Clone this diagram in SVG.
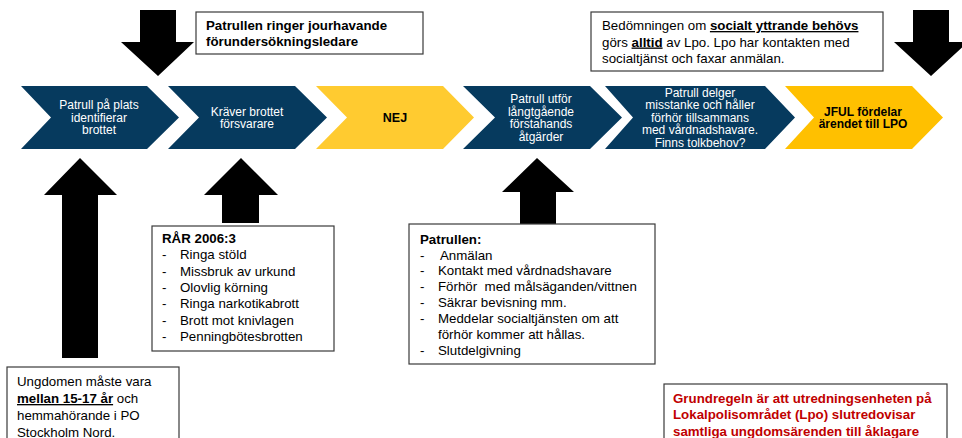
<svg xmlns="http://www.w3.org/2000/svg" width="962" height="438" viewBox="0 0 962 438">
<style>
text{font-family:"Liberation Sans",Arial,sans-serif;}
.chev{fill:#063A5E;}
.chevY{fill:#FFCB30;}
.chevY2{fill:#FFC000;}
.ct{font-size:12px;fill:#FFFFFF;text-anchor:middle;}
.cb{font-size:12.5px;font-weight:bold;fill:#000;text-anchor:middle;}
.box{fill:#FFFFFF;stroke:#3a3a3a;stroke-width:1.2;}
.bt{font-size:13.3px;fill:#000;}
.bold{font-weight:bold;}
.ul{text-decoration:underline;}
.red{fill:#C00000;font-weight:bold;font-size:13.3px;}
.arr{fill:#000;}
</style>
<rect width="962" height="438" fill="#FFFFFF"/>

<g id="connectors">
<polygon class="arr" points="140,10 176,10 176,42 194,42 158,76 121,42 140,42"/>
<polygon class="arr" points="913,10 949,10 949,42 968,42 931,76 894,42 913,42"/>
<polygon class="arr" points="80,158 117,195 98,195 98,358 62,358 62,195 44,195"/>
<polygon class="arr" points="241,158 278,195 259,195 259,223 222,223 222,195 204,195"/>
<polygon class="arr" points="537,158 574,192 556,192 556,224 520,224 520,192 502,192"/>
</g>

<g id="step1">
<polygon class="chev" points="21,86 147,86 179,117.5 147,149 21,149 51,117.5"/>
<text class="ct"><tspan x="99" y="109.3">Patrull på plats</tspan><tspan x="99" y="121.8">identifierar</tspan><tspan x="99" y="134.3">brottet</tspan></text>
</g>
<g id="step2">
<polygon class="chev" points="168,86 295,86 327,117.5 295,149 168,149 199,117.5"/>
<text class="ct"><tspan x="247" y="115.5">Kräver brottet</tspan><tspan x="247" y="128">försvarare</tspan></text>
</g>
<g id="step3">
<polygon class="chevY" points="316,86 443,86 474,117.5 443,149 316,149 347,117.5"/>
<text class="cb" x="395" y="122">NEJ</text>
</g>
<g id="step4">
<polygon class="chev" points="463,86 590,86 622,117.5 590,149 463,149 495,117.5"/>
<text class="ct"><tspan x="541" y="103">Patrull utför</tspan><tspan x="541" y="115.5">långtgående</tspan><tspan x="541" y="128">förstahands</tspan><tspan x="541" y="140.5">åtgärder</tspan></text>
</g>
<g id="step5">
<polygon class="chev" points="605,86 765,86 795,117.5 765,149 605,149 633,117.5"/>
<text class="ct"><tspan x="700" y="96.8">Patrull delger</tspan><tspan x="700" y="109.3">misstanke och håller</tspan><tspan x="700" y="121.8">förhör tillsammans</tspan><tspan x="700" y="134.3">med vårdnadshavare.</tspan><tspan x="700" y="146.8">Finns tolkbehov?</tspan></text>
</g>
<g id="step6">
<polygon class="chevY2" points="785,86 912,86 943,117.5 912,149 785,149 814,117.5"/>
<text class="cb" style="font-size:12px"><tspan x="863" y="115.5">JFUL fördelar</tspan><tspan x="863" y="128">ärendet till LPO</tspan></text>
</g>

<g id="note-jourhavande">
<rect class="box" x="196" y="12" width="227" height="42"/>
<text class="bt bold"><tspan x="206" y="30">Patrullen ringer jourhavande</tspan><tspan x="206" y="46">förundersökningsledare</tspan></text>
</g>

<g id="note-socialt">
<rect class="box" x="591" y="12" width="292" height="59"/>
<text class="bt"><tspan x="602" y="30">Bedömningen om <tspan class="bold ul">socialt yttrande behövs</tspan></tspan><tspan x="602" y="46.5">görs <tspan class="bold ul">alltid</tspan> av Lpo. Lpo har kontakten med</tspan><tspan x="602" y="63">socialtjänst och faxar anmälan.</tspan></text>
</g>

<g id="note-rar">
<rect class="box" x="152" y="226" width="182" height="125"/>
<text class="bt bold" x="162" y="243">RÅR 2006:3</text>
<text class="bt">
<tspan x="162" y="259">-</tspan><tspan x="180" y="259">Ringa stöld</tspan>
<tspan x="162" y="275.5">-</tspan><tspan x="180" y="275.5">Missbruk av urkund</tspan>
<tspan x="162" y="292">-</tspan><tspan x="180" y="292">Olovlig körning</tspan>
<tspan x="162" y="308">-</tspan><tspan x="180" y="308">Ringa narkotikabrott</tspan>
<tspan x="162" y="324.5">-</tspan><tspan x="180" y="324.5">Brott mot knivlagen</tspan>
<tspan x="162" y="341">-</tspan><tspan x="180" y="341">Penningbötesbrotten</tspan>
</text>
</g>

<g id="note-patrullen">
<rect class="box" x="409" y="224" width="246" height="140"/>
<text class="bt bold" x="420" y="243.5">Patrullen:</text>
<text class="bt">
<tspan x="420" y="259.5">-</tspan><tspan x="440" y="259.5">Anmälan</tspan>
<tspan x="420" y="275.3">-</tspan><tspan x="438" y="275.3">Kontakt med vårdnadshavare</tspan>
<tspan x="420" y="291.1">-</tspan><tspan x="438" y="291.1">Förhör&#160; med målsäganden/vittnen</tspan>
<tspan x="420" y="306.9">-</tspan><tspan x="438" y="306.9">Säkrar bevisning mm.</tspan>
<tspan x="420" y="322.7">-</tspan><tspan x="438" y="322.7">Meddelar socialtjänsten om att</tspan>
<tspan x="438" y="338.5">förhör kommer att hållas.</tspan>
<tspan x="420" y="354.5">-</tspan><tspan x="438" y="354.5">Slutdelgivning</tspan>
</text>
</g>

<g id="note-ungdomen">
<rect class="box" x="7" y="367" width="172" height="90"/>
<text class="bt"><tspan x="17" y="386">Ungdomen måste vara</tspan><tspan x="17" y="403"><tspan class="bold ul">mellan 15-17 år</tspan> och</tspan><tspan x="17" y="420">hemmahörande i PO</tspan><tspan x="17" y="436.5">Stockholm Nord.</tspan></text>
</g>

<g id="note-grundregel">
<rect class="box" x="664" y="384" width="283" height="70"/>
<text class="red"><tspan x="673" y="402.5">Grundregeln är att utredningsenheten på</tspan><tspan x="673" y="419">Lokalpolisområdet (Lpo) slutredovisar</tspan><tspan x="673" y="435.5">samtliga ungdomsärenden till åklagare</tspan></text>
</g>
</svg>
